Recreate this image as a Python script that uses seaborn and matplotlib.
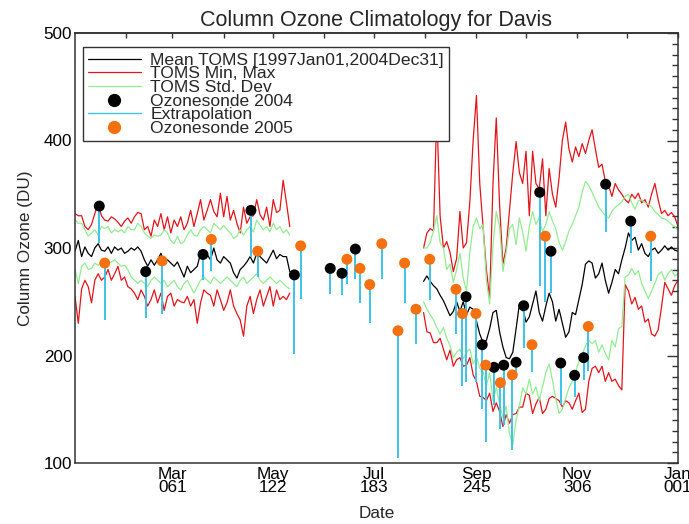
import numpy as np
import pandas as pd
import matplotlib
matplotlib.use("Agg")
import matplotlib.pyplot as plt
from matplotlib.lines import Line2D
import seaborn as sns

# ---------------- TOMS climatology (day of year, DU) ----------------
# Segment 1: Jan - mid May, every second day
days_a = list(range(1, 132, 2))
mean_a = [297, 307, 292, 301, 295, 292, 300, 304, 298, 297, 301, 295, 301, 298, 300, 295,
          297, 300, 298, 301, 297, 289, 283, 289, 284, 289, 295, 286, 289, 286, 283, 287,
          280, 273, 283, 277, 280, 283, 295, 297, 294, 289, 300, 289, 286, 292, 289, 286,
          277, 272, 280, 283, 287, 292, 286, 295, 292, 289, 286, 292, 298, 290, 294, 292,
          292, 278]
sdhi_a = [326, 323, 323, 317, 311, 314, 317, 312, 320, 318, 320, 314, 317, 315, 317, 314,
          320, 317, 317, 323, 320, 314, 311, 309, 312, 311, 312, 317, 314, 307, 304, 311,
          304, 306, 312, 317, 312, 311, 317, 320, 317, 314, 323, 320, 317, 321, 317, 314,
          309, 311, 317, 312, 317, 320, 315, 326, 321, 317, 320, 315, 323, 317, 320, 314,
          317, 312]
sdlo_a = [280, 267, 283, 286, 280, 281, 286, 284, 287, 284, 286, 287, 289, 286, 283, 284,
          280, 273, 270, 267, 270, 267, 264, 270, 273, 270, 267, 270, 264, 267, 270, 264,
          261, 267, 270, 264, 258, 264, 270, 273, 270, 267, 273, 270, 267, 270, 273, 270,
          267, 264, 270, 273, 267, 270, 273, 276, 270, 267, 270, 273, 270, 267, 270, 267,
          264, 262]
max_a = [332, 330, 330, 320, 317, 322, 332, 342, 330, 326, 325, 329, 327, 324, 320, 325,
         328, 323, 329, 333, 332, 317, 320, 311, 326, 320, 332, 317, 329, 314, 326, 320,
         329, 317, 323, 335, 320, 332, 345, 326, 335, 345, 334, 329, 351, 329, 348, 326,
         335, 323, 314, 338, 323, 329, 330, 345, 331, 326, 338, 320, 345, 333, 335, 363,
         342, 320]
min_a = [255, 230, 262, 270, 264, 249, 270, 276, 270, 273, 280, 270, 276, 283, 270, 273,
         264, 262, 258, 252, 261, 255, 246, 252, 261, 249, 258, 242, 255, 258, 246, 252,
         250, 249, 255, 246, 252, 230, 249, 261, 258, 256, 246, 261, 252, 242, 249, 261,
         246, 239, 233, 218, 246, 255, 239, 252, 261, 246, 255, 264, 246, 261, 252, 255,
         252, 258]

# Segment 2: August - December, every second day
days_b = list(range(212, 367, 2))
mean_b = [269, 274, 269, 265, 262, 256, 251, 244, 237, 241, 250, 241, 250, 238, 245, 243,
          232, 220, 212, 214, 225, 240, 242, 222, 208, 198, 197, 203, 225, 248, 244, 231,
          236, 248, 260, 240, 232, 246, 258,
          250, 232, 243, 230, 217, 222, 240, 238, 252, 266, 285, 288, 286, 272, 276, 286,
          270, 258, 268, 280, 276, 289, 300, 314, 307, 310, 298, 304, 295, 292, 298, 300,
          295, 298, 302, 298, 301, 298, 297]
sdhi_b = [300, 300, 305, 316, 330, 305, 300, 280, 285, 268, 280, 295, 272, 260, 296, 320,
          328, 318, 322, 270, 248, 302, 334, 320, 278, 296, 318, 322, 303, 328, 315, 297,
          320, 334, 322, 328, 315, 322, 334,
          325, 318, 305, 298, 306, 316, 322, 330, 338, 352, 362, 358, 352, 345, 338, 334,
          330, 328, 334, 338, 340, 343, 348, 350, 342, 336, 344, 345, 342, 341, 338, 334,
          331, 328, 327, 325, 322, 320, 316]
sdlo_b = [250, 243, 238, 233, 226, 220, 226, 216, 209, 198, 203, 206, 197, 203, 206, 192,
          199, 188, 185, 172, 184, 158, 170, 155, 142, 153, 127, 117, 140, 153, 170, 164,
          178, 164, 171, 158, 171, 184, 192,
          177, 160, 146, 150, 160, 170, 176, 184, 195, 201, 209, 214, 211, 214, 203, 210,
          202, 196, 214, 208, 225, 227, 273, 275, 281, 275, 279, 267, 260, 253, 260, 267,
          275, 278, 270, 276, 280, 274, 276]
max_b = [300, 314, 318, 316, 427, 330, 300, 306, 296, 278, 290, 334, 300, 305, 343, 400,
         442, 360, 320, 280, 253, 360, 421, 340, 285, 300, 335, 370, 399, 370, 360, 390,
         330, 390, 360, 355, 383, 330, 374,
         350, 338, 365, 400, 417, 392, 380, 394, 385, 397, 388, 400, 410, 392, 375, 378,
         362, 358, 348, 360, 354, 350, 345, 342, 350, 346, 351, 342, 345, 338, 350, 360,
         345, 332, 335, 330, 333, 329, 320]
min_b = [240, 222, 221, 212, 212, 216, 206, 196, 205, 190, 196, 198, 190, 191, 198, 182,
         176, 162, 161, 158, 165, 148, 156, 148, 134, 145, 137, 145, 146, 152, 152, 165,
         163, 146, 155, 161, 146, 150, 160,
         162, 160, 158, 152, 158, 156, 150, 158, 165, 147, 150, 176, 188, 190, 184, 190,
         176, 184, 176, 178, 172, 168, 266, 260, 248, 254, 243, 246, 231, 234, 220, 218,
         224, 245, 268, 262, 256, 265, 270]

# ---------------- Ozonesonde totals and extrapolated lower ends ----------------
sonde04_day = [15.7, 43.8, 78.5, 107.5, 133.8, 155.5, 162.6, 170.7, 237.7, 247.5, 254.6,
               260.5, 268.0, 272.6, 282.3, 289.1, 295.0, 303.4, 308.9, 322.2, 337.4]
sonde04_du = [339, 278, 294, 335, 275, 281, 276.5, 299, 254.7, 210, 189,
              191, 193.7, 246.3, 351.8, 297, 193, 181.6, 198, 359.3, 325]
sonde04_low = [305, 235, 270, 292, 201, 257, 256, 271, 175, 150, 154,
               135, 179, 207, 265, 258, 155, 161, 177, 315, 295]

sonde05_day = [19.0, 53.7, 83.5, 111.6, 137.6, 165.6, 173.5, 179.4, 186.7, 196.5, 200.5,
               207.4, 215.7, 231.6, 235.5, 243.7, 249.6, 258.5, 265.7, 277.6, 285.7,
               311.7, 349.5]
sonde05_du = [286, 288, 308, 297, 302, 289.5, 281, 266, 304, 223, 286,
              243, 289.5, 261.6, 239, 239, 191, 174.7, 182, 210, 311,
              227, 311]
sonde05_low = [233, 239, 279, 273, 253, 266.5, 249, 230.5, 271, 105, 248.5,
               210.7, 251.6, 220, 172, 175, 120, 132, 112, 185, 250,
               186, 269]

month_ticks = [60, 121, 182, 244, 305, 366]
month_labels = ["Mar\n061", "May\n122", "Jul\n183", "Sep\n245", "Nov\n306", "Jan\n001"]
month_minor = [32, 91, 152, 213, 274, 335]

# ---------------- tidy tables ----------------
frames = []
for seg, days, cols in [
    ("a", days_a, dict(mean=mean_a, sdhi=sdhi_a, sdlo=sdlo_a, max=max_a, min=min_a)),
    ("b", days_b, dict(mean=mean_b, sdhi=sdhi_b, sdlo=sdlo_b, max=max_b, min=min_b)),
]:
    for name, vals in cols.items():
        frames.append(pd.DataFrame({"day": days, "du": vals, "series": name, "segment": seg}))
toms = pd.concat(frames, ignore_index=True)

s04 = pd.DataFrame({"day": sonde04_day, "du": sonde04_du, "low": sonde04_low})
s05 = pd.DataFrame({"day": sonde05_day, "du": sonde05_du, "low": sonde05_low})

# ---------------- style ----------------
sns.set_theme(style="white")
plt.rcParams["font.family"] = ["Liberation Sans", "DejaVu Sans"]
plt.rcParams["axes.edgecolor"] = "#333333"

RED = "#e4141b"
GREEN = "#93ec93"
BLUE = "#3cc3e8"
ORANGE = "#f5700f"

fig = plt.figure(figsize=(6.89, 5.24), dpi=100)
ax = fig.add_axes([75 / 689, 61 / 524, 603 / 689, 430 / 524])

line_styles = [("max", RED), ("min", RED), ("sdhi", GREEN), ("sdlo", GREEN), ("mean", "black")]
for name, col in line_styles:
    sns.lineplot(data=toms[toms.series == name], x="day", y="du", units="segment",
                 estimator=None, color=col, lw=0.9, ax=ax, legend=False)

ax.vlines(s04["day"], s04["low"], s04["du"], color=BLUE, lw=1.4, zorder=3)
ax.vlines(s05["day"], s05["low"], s05["du"], color=BLUE, lw=1.4, zorder=3)

sns.scatterplot(data=s04, x="day", y="du", color="black", s=62, edgecolor="none",
                ax=ax, zorder=4, legend=False)
sns.scatterplot(data=s05, x="day", y="du", color=ORANGE, s=62, edgecolor="none",
                ax=ax, zorder=4, legend=False)

ax.set_xlim(1, 366)
ax.set_ylim(100, 500)

ax.set_xticks(month_ticks)
ax.set_xticklabels(month_labels)
ax.set_xticks(month_minor, minor=True)
ax.set_yticks([100, 200, 300, 400, 500])
ax.set_yticks(np.arange(100, 501, 10), minor=True)
for lbl in ax.get_xticklabels():
    lbl.set_linespacing(0.8)

ax.tick_params(axis="both", which="both", direction="in", colors="#333333",
               labelcolor="black", labelsize=12.3, width=1.0)
ax.tick_params(axis="y", which="both", right=True)
ax.tick_params(axis="y", which="major", length=8, pad=2)
ax.tick_params(axis="y", which="minor", length=4)
ax.tick_params(axis="x", which="major", length=7.5, pad=3)
ax.tick_params(axis="x", which="minor", length=3.6)

top = ax.secondary_xaxis("top")
top.set_xticks(sorted(month_ticks + month_minor))
top.tick_params(direction="in", length=3.6, width=1.0, colors="#333333", labeltop=False)
top.set_xticklabels([])

for sp in ax.spines.values():
    sp.set_linewidth(1.1)
for sp in top.spines.values():
    sp.set_linewidth(1.1)

ax.set_xlabel("Date", fontsize=12.3, labelpad=8)
ax.set_ylabel("Column Ozone (DU)", fontsize=12.3, labelpad=8)
ax.set_title("Column Ozone Climatology for Davis", fontsize=15.5, pad=5)

handles = [
    Line2D([], [], color="black", lw=0.9),
    Line2D([], [], color=RED, lw=0.9),
    Line2D([], [], color=GREEN, lw=0.9),
    Line2D([], [], color="black", marker="o", ls="none", markersize=8.5),
    Line2D([], [], color=BLUE, lw=1.0),
    Line2D([], [], color=ORANGE, marker="o", ls="none", markersize=8.5),
]
labels = ["Mean TOMS [1997Jan01,2004Dec31]", "TOMS Min, Max", "TOMS Std. Dev",
          "Ozonesonde 2004", "Extrapolation", "Ozonesonde 2005"]
leg = ax.legend(handles, labels, loc="upper left", bbox_to_anchor=(0.013, 0.967),
                fontsize=12.6, frameon=True, fancybox=False, framealpha=1,
                edgecolor="#333333", labelspacing=-0.09, handlelength=3.0,
                handletextpad=0.55, borderpad=0.3, borderaxespad=0)
leg.get_frame().set_linewidth(1.0)

fig.savefig("out.png", dpi=100)
